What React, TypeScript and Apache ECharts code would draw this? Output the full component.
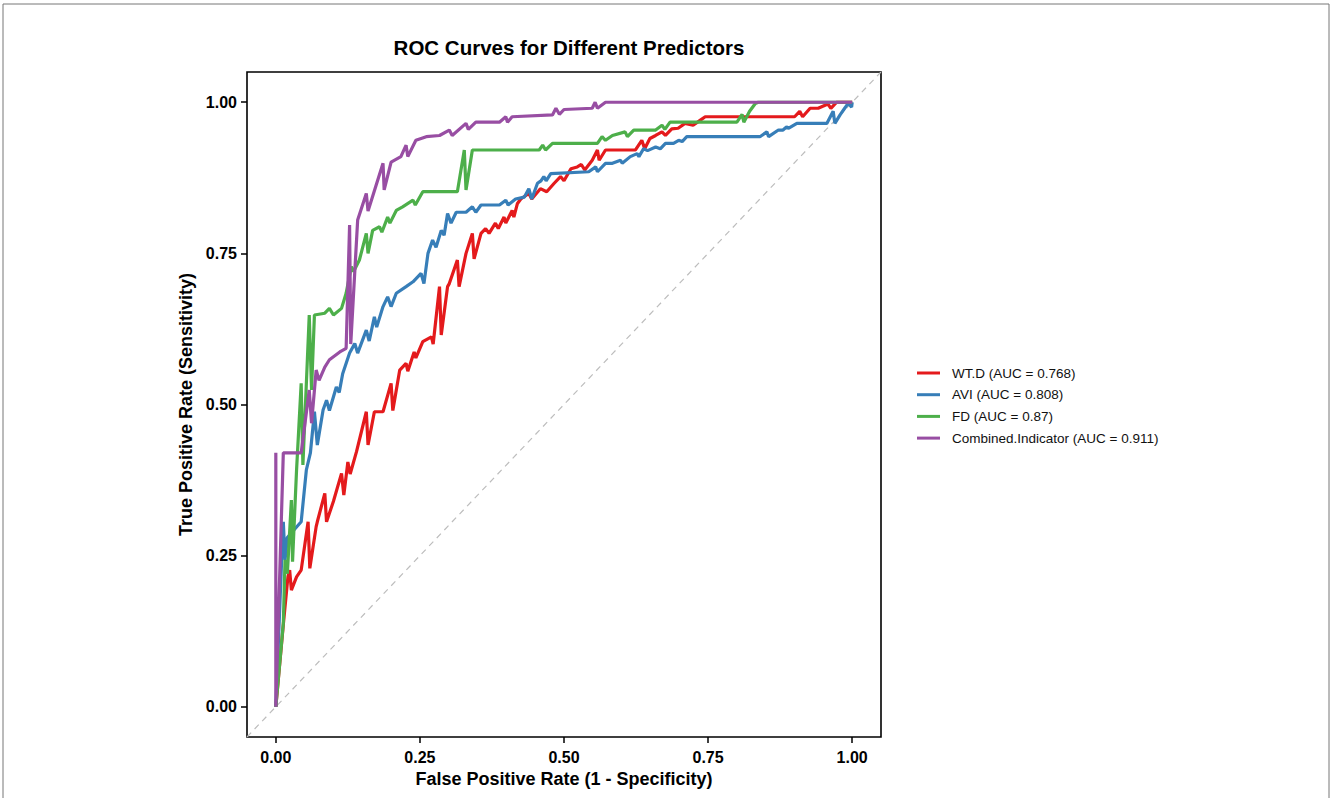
import React, { useEffect, useRef } from "react";
import * as echarts from "echarts";

const seriesNames = [
  "WT.D (AUC = 0.768)",
  "AVI (AUC = 0.808)",
  "FD (AUC = 0.87)",
  "Combined.Indicator (AUC = 0.911)",
];
const seriesColors = ["#E41A1C", "#377EB8", "#4DAF4A", "#984EA3"];
const tickValues = [0, 0.25, 0.5, 0.75, 1];

const wtdRoc: number[][] = [
  [0, 0], [0.013, 0.136], [0.021, 0.215], [0.024, 0.226], [0.027, 0.193], [0.036, 0.215],
  [0.044, 0.226], [0.056, 0.306], [0.059, 0.229], [0.07, 0.298], [0.072, 0.306], [0.085, 0.353],
  [0.088, 0.306], [0.1, 0.34], [0.114, 0.386], [0.118, 0.35], [0.125, 0.405], [0.129, 0.385],
  [0.14, 0.422], [0.157, 0.488], [0.16, 0.433], [0.171, 0.488], [0.186, 0.488], [0.2, 0.535],
  [0.203, 0.49], [0.215, 0.557], [0.226, 0.568], [0.229, 0.555], [0.24, 0.587], [0.243, 0.577],
  [0.255, 0.604], [0.27, 0.612], [0.273, 0.6], [0.284, 0.695], [0.287, 0.615], [0.298, 0.695],
  [0.301, 0.7], [0.315, 0.739], [0.318, 0.695], [0.33, 0.75], [0.341, 0.783], [0.344, 0.741],
  [0.356, 0.783], [0.364, 0.791], [0.37, 0.783], [0.381, 0.8], [0.386, 0.791], [0.396, 0.81],
  [0.399, 0.8], [0.41, 0.821], [0.413, 0.81], [0.419, 0.832], [0.425, 0.84], [0.439, 0.849],
  [0.444, 0.84], [0.459, 0.857], [0.47, 0.852], [0.483, 0.866], [0.494, 0.877], [0.5, 0.87],
  [0.512, 0.89], [0.523, 0.893], [0.53, 0.897], [0.536, 0.888], [0.549, 0.904], [0.558, 0.921],
  [0.561, 0.904], [0.572, 0.921], [0.624, 0.921], [0.635, 0.937], [0.64, 0.923], [0.649, 0.94],
  [0.659, 0.945], [0.67, 0.951], [0.676, 0.945], [0.687, 0.956], [0.698, 0.957], [0.71, 0.965],
  [0.724, 0.962], [0.736, 0.97], [0.745, 0.976], [0.9, 0.976], [0.909, 0.985], [0.914, 0.976],
  [0.927, 0.99], [0.941, 0.99], [0.953, 0.995], [0.958, 0.997], [0.963, 0.99], [0.973, 1.0],
  [1, 1],
];

const aviRoc: number[][] = [
  [0, 0], [0.01, 0.24], [0.013, 0.306], [0.016, 0.243], [0.02, 0.28], [0.044, 0.306],
  [0.053, 0.392], [0.06, 0.42], [0.067, 0.488], [0.072, 0.433], [0.082, 0.491], [0.088, 0.507],
  [0.093, 0.49], [0.105, 0.529], [0.11, 0.52], [0.116, 0.551], [0.128, 0.585], [0.137, 0.601],
  [0.142, 0.585], [0.157, 0.623], [0.162, 0.605], [0.171, 0.645], [0.175, 0.628], [0.186, 0.662],
  [0.194, 0.678], [0.2, 0.662], [0.209, 0.684], [0.226, 0.695], [0.238, 0.703], [0.252, 0.717],
  [0.257, 0.7], [0.264, 0.75], [0.272, 0.772], [0.278, 0.76], [0.287, 0.788], [0.292, 0.78],
  [0.298, 0.816], [0.304, 0.8], [0.313, 0.818], [0.33, 0.818], [0.341, 0.827], [0.347, 0.818],
  [0.356, 0.83], [0.388, 0.83], [0.399, 0.838], [0.403, 0.83], [0.416, 0.84], [0.431, 0.843],
  [0.439, 0.857], [0.444, 0.84], [0.454, 0.866], [0.46, 0.87], [0.465, 0.877], [0.469, 0.87],
  [0.477, 0.882], [0.543, 0.885], [0.555, 0.893], [0.558, 0.885], [0.572, 0.899], [0.584, 0.899],
  [0.598, 0.904], [0.601, 0.899], [0.615, 0.91], [0.627, 0.915], [0.63, 0.91], [0.638, 0.923],
  [0.645, 0.92], [0.659, 0.926], [0.667, 0.923], [0.676, 0.932], [0.69, 0.932], [0.699, 0.937],
  [0.705, 0.935], [0.713, 0.943], [0.84, 0.943], [0.852, 0.951], [0.855, 0.943], [0.872, 0.954],
  [0.88, 0.954], [0.886, 0.959], [0.89, 0.957], [0.904, 0.965], [0.956, 0.965], [0.967, 0.985],
  [0.97, 0.965], [0.979, 0.979], [0.987, 0.99], [0.993, 0.998], [0.999, 0.992], [1, 1],
];

const fdRoc: number[][] = [
  [0, 0], [0.013, 0.138], [0.016, 0.243], [0.02, 0.22], [0.027, 0.342], [0.029, 0.24],
  [0.036, 0.392], [0.044, 0.535], [0.047, 0.4], [0.058, 0.648], [0.062, 0.524], [0.067, 0.648],
  [0.085, 0.651], [0.093, 0.659], [0.1, 0.648], [0.114, 0.659], [0.122, 0.684], [0.131, 0.728],
  [0.135, 0.72], [0.145, 0.739], [0.157, 0.783], [0.16, 0.75], [0.168, 0.788], [0.18, 0.794],
  [0.184, 0.785], [0.194, 0.81], [0.198, 0.8], [0.209, 0.821], [0.22, 0.827], [0.238, 0.838],
  [0.242, 0.83], [0.255, 0.852], [0.315, 0.852], [0.327, 0.921], [0.33, 0.855], [0.341, 0.921],
  [0.457, 0.921], [0.463, 0.929], [0.468, 0.921], [0.48, 0.932], [0.558, 0.932], [0.566, 0.943],
  [0.572, 0.937], [0.584, 0.945], [0.606, 0.951], [0.61, 0.943], [0.621, 0.954], [0.659, 0.954],
  [0.67, 0.962], [0.675, 0.955], [0.684, 0.967], [0.8, 0.967], [0.809, 0.98], [0.812, 0.967],
  [0.822, 0.985], [0.832, 0.998], [0.837, 1.0], [1, 1],
];

const combinedRoc: number[][] = [
  [0, 0.42], [0, 0], [0.013, 0.42], [0.044, 0.42], [0.058, 0.524], [0.062, 0.469],
  [0.07, 0.557], [0.075, 0.54], [0.085, 0.562], [0.093, 0.574], [0.111, 0.587], [0.122, 0.593],
  [0.128, 0.797], [0.13, 0.6], [0.142, 0.805], [0.157, 0.849], [0.16, 0.82], [0.186, 0.899],
  [0.188, 0.855], [0.2, 0.901], [0.217, 0.91], [0.226, 0.929], [0.229, 0.91], [0.243, 0.937],
  [0.261, 0.943], [0.284, 0.945], [0.301, 0.954], [0.306, 0.945], [0.33, 0.965], [0.334, 0.955],
  [0.347, 0.967], [0.388, 0.967], [0.399, 0.976], [0.402, 0.967], [0.41, 0.976], [0.48, 0.979],
  [0.486, 0.99], [0.492, 0.98], [0.5, 0.988], [0.549, 0.99], [0.554, 1.0], [0.558, 0.99],
  [0.572, 1.0], [1, 1],
];

const referenceLine: number[][] = [[-0.05, -0.05], [1.05, 1.05]];

const FONT = "'Liberation Sans', Arial, Helvetica, sans-serif";

export default function App() {
  const ref = useRef<HTMLDivElement>(null);
  useEffect(() => {
    if (!ref.current) return;
    const chart = echarts.init(ref.current, undefined, { renderer: "svg" });
    const curves = [wtdRoc, aviRoc, fdRoc, combinedRoc];
    const axisCommon = {
      type: "value" as const,
      min: -0.05,
      max: 1.05,
      nameLocation: "middle" as const,
      nameTextStyle: { fontFamily: FONT, fontWeight: "bold", fontSize: 18, color: "#000" },
      axisLine: { show: false, onZero: false },
      axisTick: {
        show: true,
        inside: false,
        length: 6,
        customValues: tickValues,
        lineStyle: { color: "#000", width: 1.5 },
      },
      axisLabel: {
        customValues: tickValues,
        fontFamily: FONT,
        fontWeight: "bold",
        fontSize: 16,
        color: "#000",
        formatter: (v: number) => v.toFixed(2),
      },
      splitLine: { show: false },
    };
    chart.setOption({
      animation: false,
      backgroundColor: "#fff",
      title: {
        text: "ROC Curves for Different Predictors",
        left: 564,
        top: 32,
        textAlign: "center",
        textStyle: { fontFamily: FONT, fontWeight: "bold", fontSize: 20.5, color: "#000" },
      },
      grid: {
        left: 247,
        top: 72,
        width: 634,
        height: 665,
        show: true,
        borderColor: "#000",
        borderWidth: 1.6,
        backgroundColor: "transparent",
      },
      xAxis: {
        ...axisCommon,
        name: "False Positive Rate (1 - Specificity)",
        nameGap: 33,
        axisLabel: { ...axisCommon.axisLabel, margin: 12 },
      },
      yAxis: {
        ...axisCommon,
        name: "True Positive Rate (Sensitivity)",
        nameGap: 52,
        axisLabel: { ...axisCommon.axisLabel, margin: 10 },
      },
      legend: {
        data: seriesNames,
        orient: "vertical",
        left: 912,
        top: 361,
        icon: "rect",
        itemWidth: 23,
        itemHeight: 3,
        itemGap: 7.7,
        textStyle: {
          fontFamily: FONT,
          fontSize: 13.5,
          lineHeight: 14,
          color: "#111",
          padding: [0, 0, 0, 7],
        },
      },
      graphic: [
        {
          type: "rect",
          shape: { x: 3, y: 4, width: 1326, height: 800 },
          style: { fill: "none", stroke: "#777", lineWidth: 1 },
          silent: true,
        },
      ],
      series: [
        {
          name: "reference",
          type: "line",
          data: referenceLine,
          symbol: "none",
          silent: true,
          lineStyle: { color: "#bdbdbd", width: 1.2, type: [6, 5] },
          z: 1,
        },
        ...curves.map((d, i) => ({
          name: seriesNames[i],
          type: "line",
          data: d,
          symbol: "none",
          color: seriesColors[i],
          lineStyle: { color: seriesColors[i], width: 3.2 },
          z: 2 + i,
        })),
      ],
    });
    return () => chart.dispose();
  }, []);
  return (
    <div
      ref={ref}
      style={{ position: "fixed", left: 0, top: 0, width: 1330, height: 798, background: "#fff" }}
    />
  );
}
